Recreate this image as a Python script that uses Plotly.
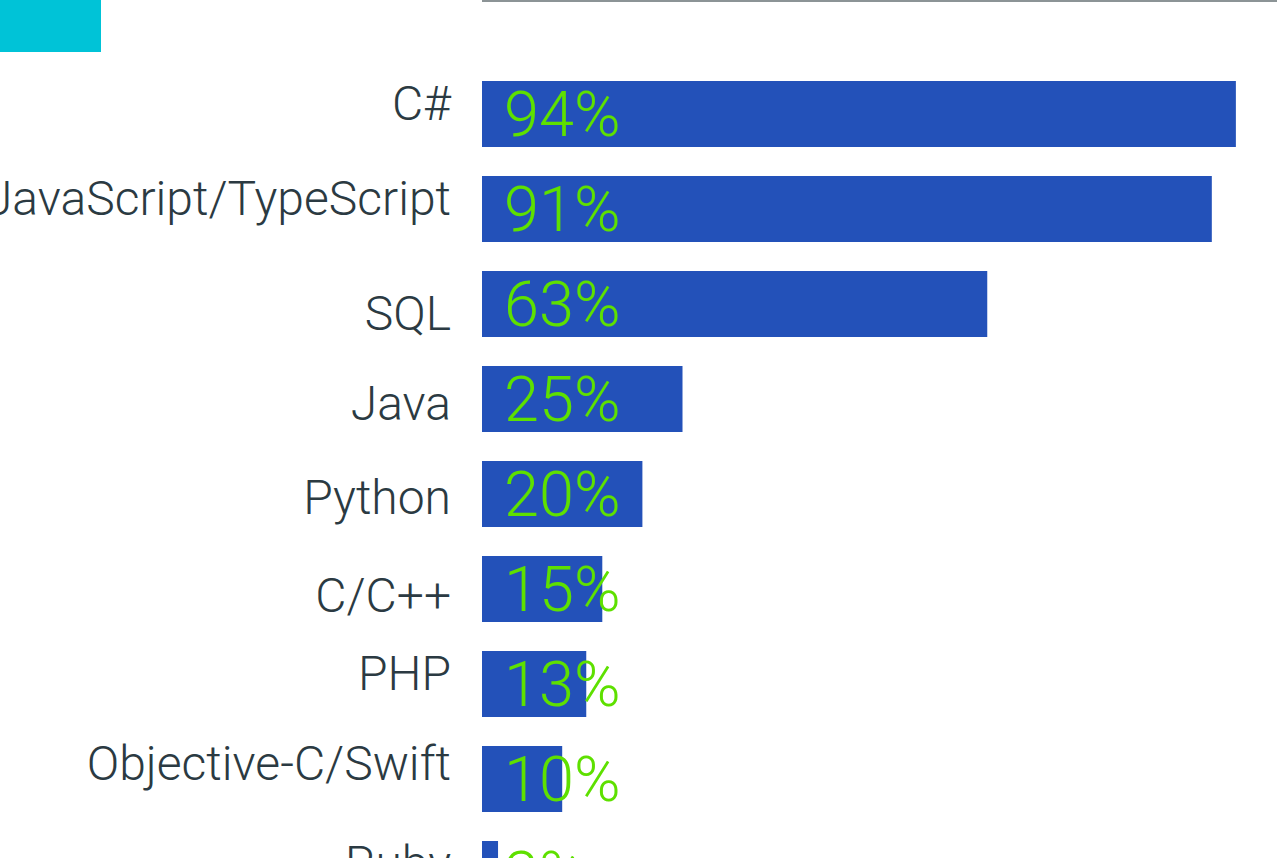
import plotly.graph_objects as go

categories = ["C#", "JavaScript/TypeScript", "SQL", "Java", "Python", "C/C++", "PHP",
              "Objective-C/Swift", "Ruby"]
values = [94, 91, 63, 25, 20, 15, 13, 10, 2]
labels = [f"{v}%" for v in values]

# style: vertical nudge (px, + = down) of each category label relative to its bar
LABEL_DY = [-11, -11, 9, 4, 3, 6, -11, -16, -11]

W, H = 1277, 1000
ML, MR, MT, MB = 482, 0, 2, 0
PX_PER_CAT = 95.0
FIRST_CENTER = 114.0
PX_PER_PCT = 8.02

plot_w = W - ML - MR
plot_h = H - MT - MB
y_top = -(FIRST_CENTER - MT) / PX_PER_CAT
y_bot = y_top + plot_h / PX_PER_CAT
x_max = plot_w / PX_PER_PCT

idx = list(range(len(categories)))
tick_pos = [i + d / PX_PER_CAT for i, d in zip(idx, LABEL_DY)]

BAR = "#2351b9"
GREEN = "#5ee000"
LABEL = "#2b3a42"
FONT = "Roboto"

fig = go.Figure()
fig.add_trace(go.Bar(
    x=values, y=categories, orientation="h",
    marker=dict(color=BAR, line=dict(width=0)),
    width=0.695, hoverinfo="skip",
))
# invisible trace carrying the category tick labels
fig.add_trace(go.Scatter(
    x=[0] * len(categories), y=tick_pos, yaxis="y2", mode="markers",
    marker=dict(opacity=0), hoverinfo="skip",
))

for c, t in zip(categories, labels):
    fig.add_annotation(
        x=0, y=c, xref="x", yref="y", text=t, showarrow=False,
        xanchor="left", yanchor="middle", xshift=20, yshift=0,
        font=dict(family=FONT, size=63, color=GREEN, weight=300),
    )

# decorative cyan block at top-left
fig.add_shape(
    type="rect", xref="paper", yref="paper",
    x0=(0 - ML) / plot_w, x1=(101 - ML) / plot_w,
    y0=1 - (52 - MT) / plot_h, y1=1 + MT / plot_h,
    fillcolor="#00c3d7", line=dict(width=0), layer="above",
)

fig.update_layout(
    width=W, height=H,
    margin=dict(l=ML, r=MR, t=MT, b=MB, pad=0),
    paper_bgcolor="white", plot_bgcolor="white",
    showlegend=False,
    xaxis=dict(range=[0, x_max], side="top", showgrid=False, zeroline=False,
               showticklabels=False, ticks="", showline=True,
               linecolor="#8c9496", linewidth=2.5, automargin=False),
    yaxis=dict(range=[y_bot, y_top], showgrid=False, zeroline=False,
               showline=False, ticks="", showticklabels=False, automargin=False),
    yaxis2=dict(overlaying="y", side="left", type="linear", range=[y_bot, y_top],
                tickmode="array", tickvals=tick_pos, ticktext=categories,
                showgrid=False, zeroline=False, showline=False, ticks="",
                ticklabelstandoff=30, automargin=False,
                tickfont=dict(family=FONT, size=48, color=LABEL, weight=300)),
)

fig.write_html("out.html", config={"displayModeBar": False},
               post_script="document.body.style.margin='0';document.body.style.overflow='hidden';")
